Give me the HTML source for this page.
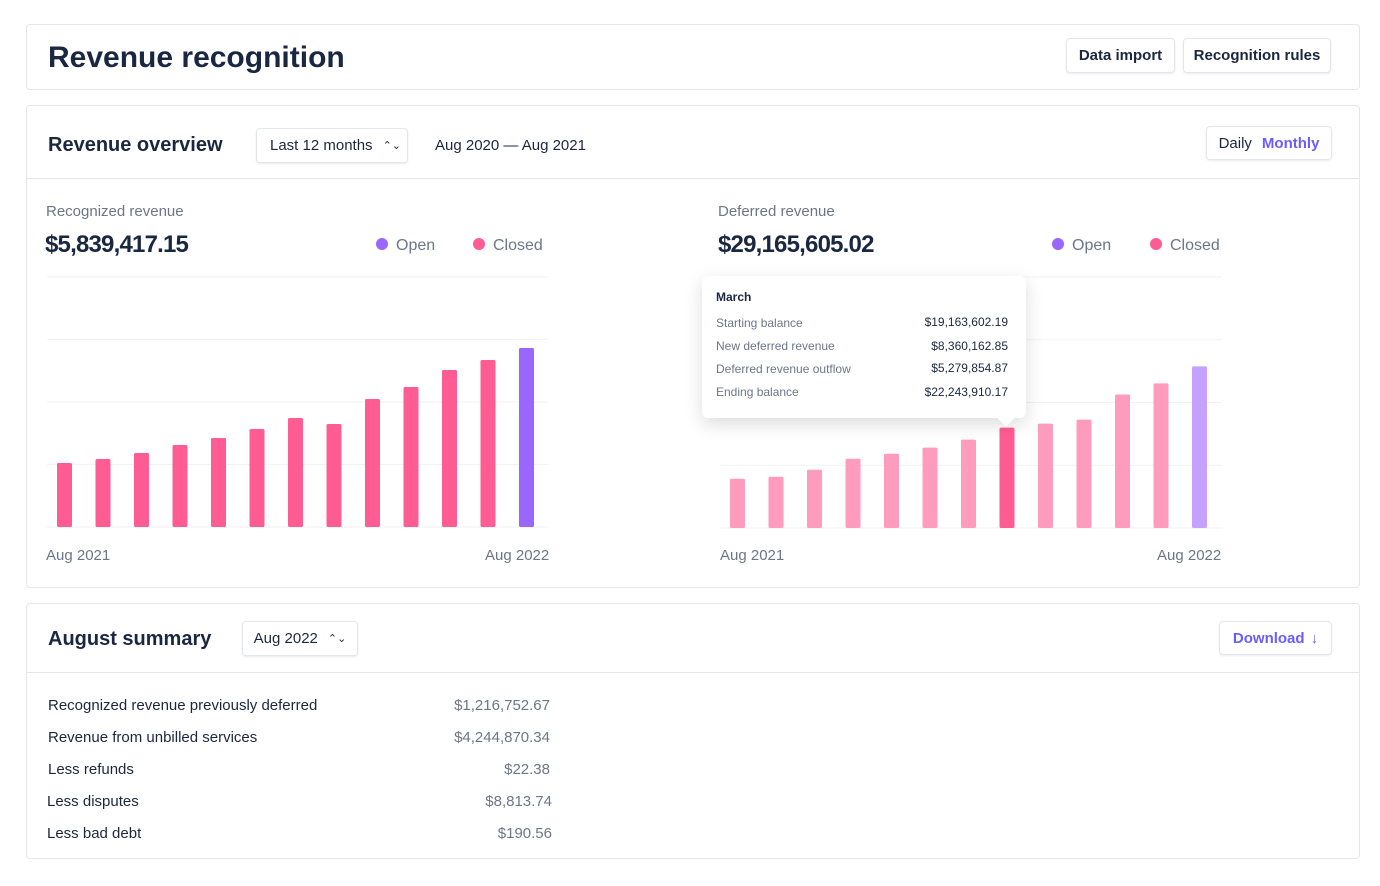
<!DOCTYPE html>
<html><head><meta charset="utf-8"><style>
*{box-sizing:border-box;margin:0;padding:0}
body{width:1380px;height:886px;background:#fff;font-family:"Liberation Sans",sans-serif;color:#1a2740;position:relative;overflow:hidden}
.card{position:absolute;left:26px;width:1334px;border:1px solid #e3e7ec;border-radius:4px;background:#fff}
.abs{position:absolute;white-space:nowrap}
.btn{position:absolute;border:1px solid #e3e7ec;border-radius:4px;box-shadow:0 1px 2px rgba(0,0,0,.08);background:#fff;font-size:15px;font-weight:bold;color:#1a2740;display:flex;align-items:center;justify-content:center}
.muted{color:#6b7689}
.lbl{font-size:15px;color:#1a2740}
.val{font-size:15px;color:#6b7689;text-align:right;width:140px}
.tt-l{font-size:12px;color:#6b7689}
.tt-v{font-size:12px;color:#1a2740;text-align:right;width:120px}
</style></head><body>
<div class="card" style="top:24px;height:66px">
  <div class="abs" style="left:21px;top:16px;font-size:30px;font-weight:bold">Revenue recognition</div>
  <div class="btn" style="left:1039px;top:13px;width:109px;height:35px">Data import</div>
  <div class="btn" style="left:1156px;top:13px;width:148px;height:35px">Recognition rules</div>
</div>
<div class="card" style="top:105px;height:483px">
  <div class="abs" style="left:21px;top:28px;font-size:20px;font-weight:bold">Revenue overview</div>
  <div class="btn" style="left:229px;top:22px;width:152px;height:35px;font-weight:normal;justify-content:flex-start;padding-left:13px">Last 12 months<span style="margin-left:10px;font-size:11px">⌃⌄</span></div>
  <div class="abs" style="left:408px;top:31px;font-size:15px">Aug 2020 — Aug 2021</div>
  <div class="btn" style="left:1179px;top:20px;width:126px;height:34px;font-weight:normal">Daily<span style="color:#6b5cff;font-weight:bold;margin-left:10px">Monthly</span></div>
  <div class="abs" style="left:0;top:72px;width:1332px;height:1px;background:#e3e7ec"></div>
</div>
<div class="abs muted" style="left:46px;top:203px;font-size:15px">Recognized revenue</div>
<div class="abs" style="left:45px;top:231px;font-size:24px;font-weight:bold;letter-spacing:-0.8px">$5,839,417.15</div>
<div class="abs muted" style="left:376px;top:237px;font-size:16px"><span style="display:inline-block;width:12px;height:12px;border-radius:50%;background:#9b66ff;margin-right:8px"></span>Open</div>
<div class="abs muted" style="left:473px;top:237px;font-size:16px"><span style="display:inline-block;width:12px;height:12px;border-radius:50%;background:#ff5c93;margin-right:8px"></span>Closed</div>
<div class="abs muted" style="left:46px;top:547px;font-size:15px">Aug 2021</div>
<div class="abs muted" style="left:485px;top:547px;font-size:15px">Aug 2022</div>

<div class="abs muted" style="left:718px;top:203px;font-size:15px">Deferred revenue</div>
<div class="abs" style="left:718px;top:231px;font-size:24px;font-weight:bold;letter-spacing:-0.8px">$29,165,605.02</div>
<div class="abs muted" style="left:1052px;top:237px;font-size:16px"><span style="display:inline-block;width:12px;height:12px;border-radius:50%;background:#9b66ff;margin-right:8px"></span>Open</div>
<div class="abs muted" style="left:1150px;top:237px;font-size:16px"><span style="display:inline-block;width:12px;height:12px;border-radius:50%;background:#ff5c93;margin-right:8px"></span>Closed</div>
<div class="abs muted" style="left:720px;top:547px;font-size:15px">Aug 2021</div>
<div class="abs muted" style="left:1157px;top:547px;font-size:15px">Aug 2022</div>

<svg id="charts" class="abs" style="left:0;top:0" width="1380" height="886"></svg>

<div class="abs" style="left:702px;top:276px;width:324px;height:142px;background:#fff;border-radius:6px;box-shadow:0 6px 18px rgba(0,0,0,.14)">
  <div class="abs" style="left:14px;top:14px;font-size:12px;font-weight:bold">March</div>
  <div class="abs tt-l" style="left:14px;top:40px">Starting balance</div>
  <div class="abs tt-v" style="left:186px;top:39px">$19,163,602.19</div>
  <div class="abs tt-l" style="left:14px;top:63px">New deferred revenue</div>
  <div class="abs tt-v" style="left:186px;top:63px">$8,360,162.85</div>
  <div class="abs tt-l" style="left:14px;top:86px">Deferred revenue outflow</div>
  <div class="abs tt-v" style="left:186px;top:85px">$5,279,854.87</div>
  <div class="abs tt-l" style="left:14px;top:109px">Ending balance</div>
  <div class="abs tt-v" style="left:186px;top:109px">$22,243,910.17</div>
  <div class="abs" style="left:298px;top:136px;width:12px;height:12px;background:#fff;transform:rotate(45deg)"></div>
</div>

<div class="card" style="top:603px;height:256px">
  <div class="abs" style="left:21px;top:24px;font-size:20px;font-weight:bold">August summary</div>
  <div class="btn" style="left:215px;top:17px;width:116px;height:35px;font-weight:normal">Aug 2022<span style="margin-left:10px;font-size:11px">⌃⌄</span></div>
  <div class="btn" style="left:1192px;top:17px;width:113px;height:34px;color:#6b5cff">Download <span style="margin-left:6px">↓</span></div>
  <div class="abs" style="left:0;top:68px;width:1332px;height:1px;background:#e3e7ec"></div>
  <div class="abs lbl" style="left:21px;top:93px">Recognized revenue previously deferred</div>
  <div class="abs val" style="left:383px;top:93px">$1,216,752.67</div>
  <div class="abs lbl" style="left:21px;top:125px">Revenue from unbilled services</div>
  <div class="abs val" style="left:383px;top:125px">$4,244,870.34</div>
  <div class="abs lbl" style="left:21px;top:157px">Less refunds</div>
  <div class="abs val" style="left:383px;top:157px">$22.38</div>
  <div class="abs lbl" style="left:20px;top:189px">Less disputes</div>
  <div class="abs val" style="left:385px;top:189px">$8,813.74</div>
  <div class="abs lbl" style="left:20px;top:221px">Less bad debt</div>
  <div class="abs val" style="left:385px;top:221px">$190.56</div>
</div>
<script>
const months = ["Aug","Sep","Oct","Nov","Dec","Jan","Feb","Mar","Apr","May","Jun","Jul","Aug"];
const recognizedValues = [64,68,74,82,89,98,109,103,128,140,157,167,179];
const deferredValues = [49,51,58,69,74,80,88,100,104,108,133,144,161];
const gridTicks = [0,62.5,125,187.5,250];
const highlightIndex = 7;
const svg = document.getElementById('charts');
const NS = 'http://www.w3.org/2000/svg';
function drawChart(x0, x1, base, top, vals, name, faded){
  const yScale = v => base - v/250*(base-top);
  const xScale = i => x0 + 10 + i*38.5;
  gridTicks.forEach(t=>{
    const l = document.createElementNS(NS,'line');
    
    
    l.setAttribute('x1', x0); l.setAttribute('x2', x1);
    l.setAttribute('y1', yScale(t)); l.setAttribute('y2', yScale(t));
    l.setAttribute('stroke', '#f0f2f5'); l.setAttribute('stroke-width', 1);
    svg.appendChild(l);
  });
  vals.forEach((v,i)=>{
    const r = document.createElementNS(NS,'rect');
    
    
    const last = i === vals.length-1;
    let c = last ? '#9b66ff' : '#ff5c93';
    if (faded) c = last ? '#c4a2fc' : (i===highlightIndex ? '#ff5c93' : '#ff9bbd');
    r.setAttribute('x', xScale(i)); r.setAttribute('width', 15);
    r.setAttribute('y', yScale(v)); r.setAttribute('height', base - yScale(v));
    r.setAttribute('rx', 1.5); r.setAttribute('fill', c);
    svg.appendChild(r);
  });
}
drawChart(47, 548, 527, 277, recognizedValues, 'recognized', false);
drawChart(720, 1222, 528, 277, deferredValues, 'deferred', true);
</script>
</body></html>
